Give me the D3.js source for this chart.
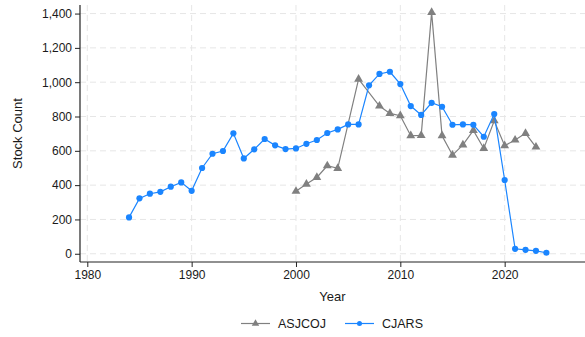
<!DOCTYPE html>
<html>
<head>
<meta charset="utf-8">
<script src="https://cdn.jsdelivr.net/npm/d3@7"></script>
<style>
  body { margin: 0; background: #fff; }
  svg { display: block; font-family: "Liberation Sans", Arial, sans-serif; }
</style>
</head>
<body>
<svg id="chart" width="585" height="337"></svg>
<script>
const yearsCJARS = d3.range(1984, 2025);
const valuesCJARS = [212, 323, 350, 361, 391, 416, 367, 500, 583, 599, 702, 556, 609, 669, 632, 610, 614, 641, 663, 704, 725, 754, 754, 982, 1048, 1061, 989, 861, 809, 880, 857, 752, 754, 752, 682, 814, 430, 29, 23, 17, 6];
const yearsASJCOJ = [2000, 2001, 2002, 2003, 2004, 2006, 2008, 2009, 2010, 2011, 2012, 2013, 2014, 2015, 2016, 2017, 2018, 2019, 2020, 2021, 2022, 2023];
const valuesASJCOJ = [364, 406, 445, 513, 498, 1018, 861, 818, 805, 688, 690, 1407, 688, 575, 635, 719, 614, 775, 630, 663, 702, 622];
const xTicks = [1980, 1990, 2000, 2010, 2020];
const yTicks = [0, 200, 400, 600, 800, 1000, 1200, 1400];
const seriesNames = ["ASJCOJ", "CJARS"];

const colBlue = "#1a85ff";
const colGray = "#808080";
const gridCol = "#e6e6e6";

const svg = d3.select("#chart");
const pL = 80, pR = 585, pT = 5, pB = 262;

const x = d3.scaleLinear().domain([1979.3, 2027.7]).range([pL, pR]);
const y = d3.scaleLinear().domain([-48, 1450]).range([pB, pT]);

// grid
const g = svg.append("g");
g.selectAll("line.hg").data(yTicks).join("line")
  .attr("x1", pL).attr("x2", pR)
  .attr("y1", d => y(d)).attr("y2", d => y(d))
  .attr("stroke", gridCol).attr("stroke-width", 1).attr("stroke-dasharray", "6,4");
g.selectAll("line.vg").data(xTicks).join("line")
  .attr("x1", d => x(d)).attr("x2", d => x(d))
  .attr("y1", pT).attr("y2", pB)
  .attr("stroke", gridCol).attr("stroke-width", 1).attr("stroke-dasharray", "6,4");

// axes
const yAxis = d3.axisLeft(y).tickValues(yTicks).tickSize(5).tickPadding(3)
  .tickFormat(d3.format(",d"));
const ya = svg.append("g").attr("transform", `translate(${pL},0)`).call(yAxis);
const xAxis = d3.axisBottom(x).tickValues(xTicks).tickSize(5).tickPadding(3).tickFormat(d3.format("d"));
const xa = svg.append("g").attr("transform", `translate(0,${pB})`).call(xAxis);
[ya, xa].forEach(a => {
  a.select(".domain").attr("stroke", "#222").attr("stroke-width", 1.2);
  a.selectAll(".tick line").attr("stroke", "#222");
  a.selectAll(".tick text").attr("fill", "#1a1a1a").style("font-size", "12px")
    .style("font-family", "'Liberation Sans', Arial, sans-serif");
});
ya.select(".domain").attr("d", `M0,${pT}V${pB}`);
xa.select(".domain").attr("d", `M${pL},0H${pR}`);

// axis titles
svg.append("text").attr("x", (pL + pR) / 2).attr("y", 301)
  .attr("text-anchor", "middle").style("font-size", "13px").attr("fill", "#1a1a1a").text("Year");
svg.append("text").attr("transform", `translate(22,${(pT + pB) / 2}) rotate(-90)`)
  .attr("text-anchor", "middle").style("font-size", "13px").attr("fill", "#1a1a1a").text("Stock Count");

// lines
const line = d3.line().x(d => x(d[0])).y(d => y(d[1]));
const dA = yearsASJCOJ.map((yr, i) => [yr, valuesASJCOJ[i]]);
const dC = yearsCJARS.map((yr, i) => [yr, valuesCJARS[i]]);

const tri = d3.symbol().type(d3.symbolTriangle).size(34);

svg.append("path").datum(dA).attr("d", line).attr("fill", "none")
  .attr("stroke", colGray).attr("stroke-width", 1.2);
svg.append("g").selectAll("path").data(dA).join("path")
  .attr("d", tri).attr("transform", d => `translate(${x(d[0])},${y(d[1])})`)
  .attr("fill", colGray);

svg.append("path").datum(dC).attr("d", line).attr("fill", "none")
  .attr("stroke", colBlue).attr("stroke-width", 1.2);
svg.append("g").selectAll("circle").data(dC).join("circle")
  .attr("cx", d => x(d[0])).attr("cy", d => y(d[1])).attr("r", 3.1)
  .attr("fill", colBlue);

// legend
const ly = 323.5;
const leg = [
  { name: seriesNames[0], color: colGray, x1: 241, x2: 270, tx: 278, marker: "tri" },
  { name: seriesNames[1], color: colBlue, x1: 345, x2: 374, tx: 382, marker: "circle" }
];
leg.forEach(l => {
  svg.append("line").attr("x1", l.x1).attr("x2", l.x2).attr("y1", ly).attr("y2", ly)
    .attr("stroke", l.color).attr("stroke-width", 1.2);
  if (l.marker === "tri") {
    svg.append("path").attr("d", d3.symbol().type(d3.symbolTriangle).size(24))
      .attr("transform", `translate(${(l.x1 + l.x2) / 2},${ly})`).attr("fill", l.color);
  } else {
    svg.append("circle").attr("cx", (l.x1 + l.x2) / 2).attr("cy", ly).attr("r", 2.5).attr("fill", l.color);
  }
  svg.append("text").attr("x", l.tx).attr("y", ly + 4.5).style("font-size", "12.5px")
    .attr("fill", "#1a1a1a").text(l.name);
});
</script>
</body>
</html>
